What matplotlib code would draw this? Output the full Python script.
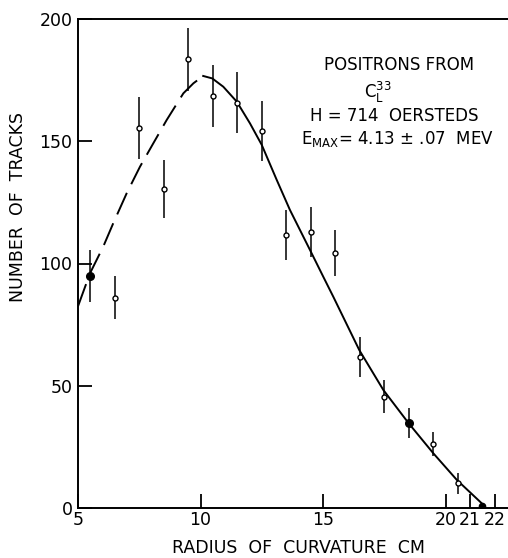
import matplotlib.pyplot as plt

plt.rcParams['font.family'] = ['DejaVu Sans']
plt.rcParams['mathtext.fontset'] = 'dejavusans'
plt.rcParams['lines.scale_dashes'] = False

# measured points (radius cm, number of tracks, error)
radius = [5.5, 6.5, 7.5, 8.5, 9.5, 10.5, 11.5, 12.5, 13.5, 14.5, 15.5, 16.5, 17.5, 18.5, 19.5, 20.5]
tracks = [95, 86, 155.5, 130.5, 183.5, 168.5, 165.8, 154.3, 111.7, 113, 104.4, 61.6, 45.5, 34.7, 26, 10.1]
errors = [10.7, 8.8, 12.6, 12, 13, 12.6, 12.5, 12.2, 10.2, 10.3, 9.5, 8.2, 6.8, 6.2, 4.9, 4.2]

# end point of the spectrum
end_x = [21.5]
end_y = [1.0]

# fitted curve, dashed part (low radius) and solid part
dash_x = [5.0, 5.49, 6.03, 6.44, 6.99, 7.53, 8.07, 8.62, 9.3, 9.71, 10.11]
dash_y = [82.5, 96, 106.9, 116.5, 128.8, 139.6, 149.1, 158.7, 169.6, 173.7, 176.7]
solid_x = [10.11, 10.48, 10.93, 11.48, 12.02, 12.5, 13.11, 13.65, 14.47, 15.01, 15.42,
           16.48, 17.46, 18.5, 19.5, 20.46, 21.48, 21.54]
solid_y = [176.7, 175.7, 172.3, 166.2, 157.3, 148.5, 134.2, 121.9, 105.5, 94.6, 86.4,
           64.6, 48.3, 34.6, 22.4, 11.5, 1.9, 0.5]

xticks = [5, 10, 15, 20, 21, 22]
yticks = [0, 50, 100, 150, 200]

fig = plt.figure(figsize=(5.08, 5.58), dpi=100)
ax = fig.add_axes([78 / 508, 50 / 558, 430 / 508, 489 / 558])

ax.plot(dash_x, dash_y, color='black', lw=1.4, dashes=(17, 7))
ax.plot(solid_x, solid_y, color='black', lw=1.4)

ax.errorbar(radius, tracks, yerr=errors, fmt='o', color='black', ecolor='black',
            elinewidth=1.1, capsize=0, markersize=3.6, markerfacecolor='white',
            markeredgewidth=1.0)
# a couple of the points are drawn filled
filled = [0, 13]
ax.plot([radius[i] for i in filled], [tracks[i] for i in filled], 'o', color='black',
        markersize=5.5, zorder=5)
ax.plot(end_x, end_y, 'o', color='black', markersize=4.5, zorder=5)

ax.set_xlim(5, 22.55)
ax.set_ylim(0, 200)
ax.set_xticks(xticks)
ax.set_yticks(yticks)
ax.tick_params(direction='in', length=10, width=1.3, labelsize=12.5, pad=4)
ax.tick_params(axis='x', pad=2)
ax.spines['right'].set_visible(False)
for s in ['left', 'top', 'bottom']:
    ax.spines[s].set_linewidth(1.4)

fig.text(18 / 508, 1 - 207 / 558, 'NUMBER  OF  TRACKS', rotation=90, ha='center',
         va='center', fontsize=12.5)
fig.text(298 / 508, 1 - 548 / 558, 'RADIUS  OF  CURVATURE  CM', ha='center', va='center',
         fontsize=12.5)

fig.text(399 / 508, 1 - 65 / 558, 'POSITRONS FROM', ha='center', va='center', fontsize=12)
fig.text(378 / 508, 1 - 92 / 558, r'C$_\mathsf{L}^\mathsf{33}$', ha='center', va='center',
         fontsize=12)
fig.text(394 / 508, 1 - 116 / 558, 'H = 714  OERSTEDS', ha='center', va='center', fontsize=12)
fig.text(397 / 508, 1 - 139 / 558, r'E$_\mathsf{MAX}$= 4.13 $\pm$ .07  MEV', ha='center',
         va='center', fontsize=12)

fig.savefig('out.png', dpi=100)
